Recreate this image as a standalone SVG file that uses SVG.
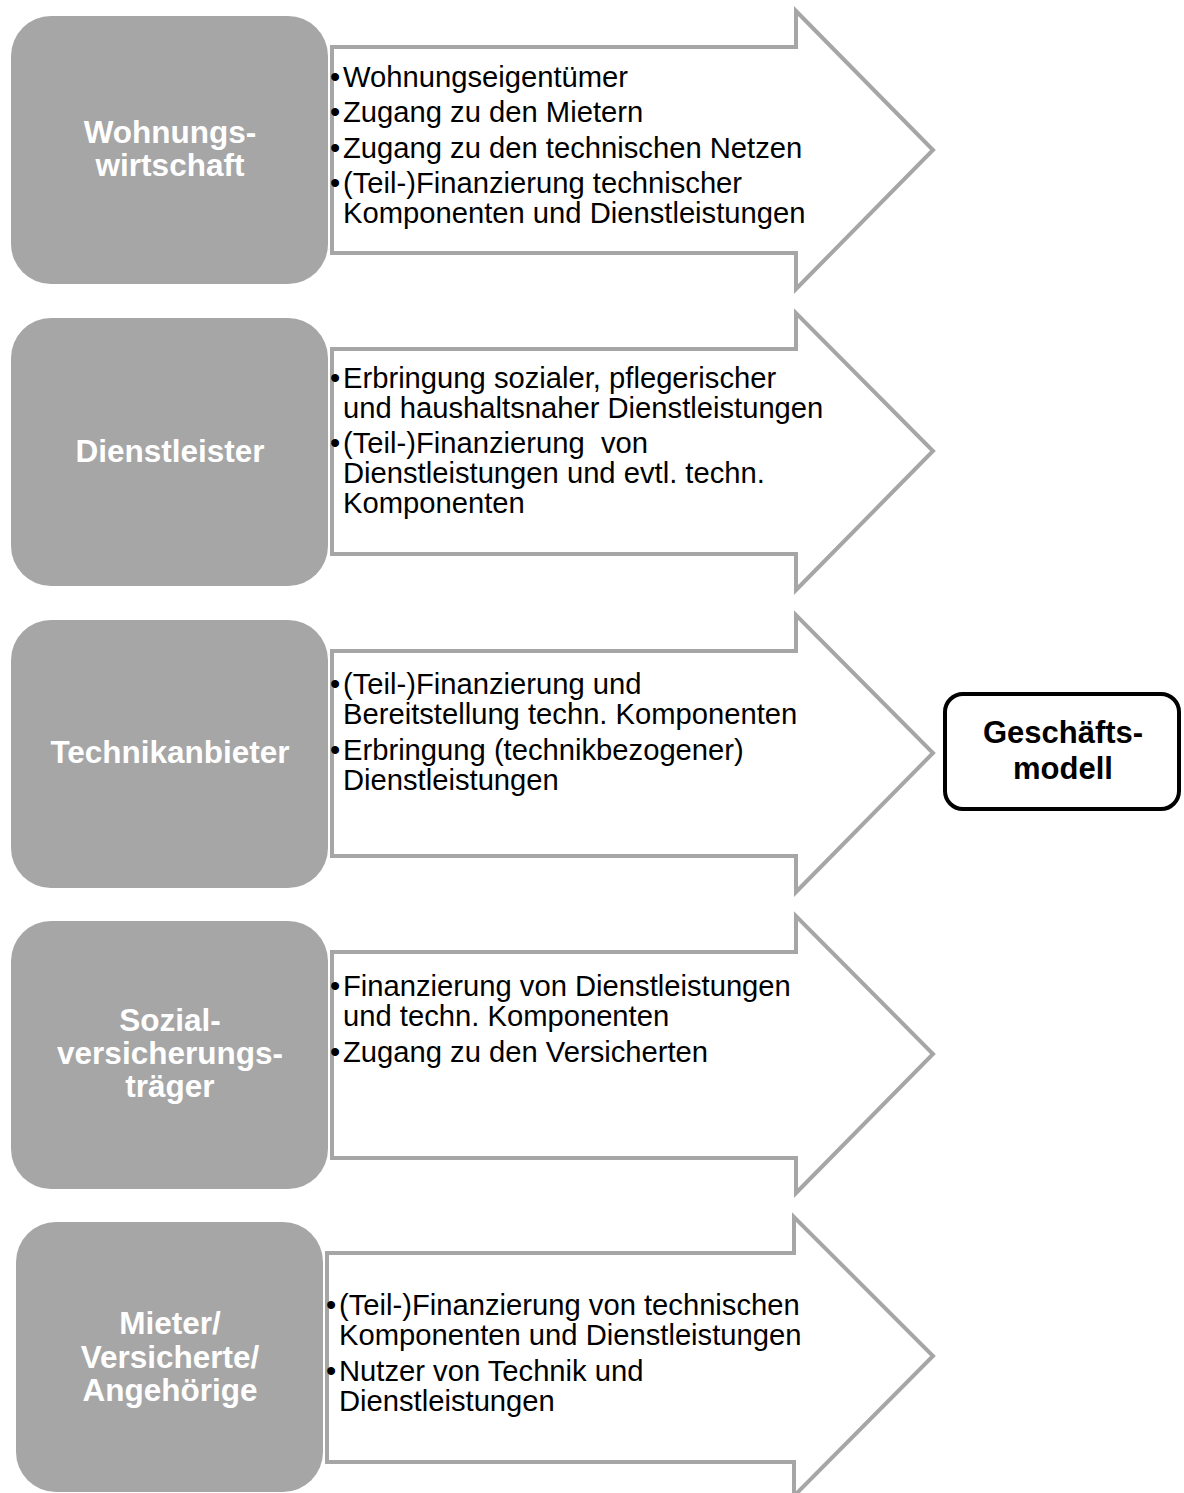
<svg xmlns="http://www.w3.org/2000/svg" width="1184" height="1493" viewBox="0 0 1184 1493">
<style>
.arrow{fill:#ffffff;stroke:#a6a6a6;stroke-width:4;stroke-linejoin:miter}
.box{fill:#a6a6a6}
.lbl{font-family:"Liberation Sans",Arial,sans-serif;font-weight:bold;font-size:31.5px;fill:#ffffff;text-anchor:middle}
.txt{font-family:"Liberation Sans",Arial,sans-serif;font-size:29.2px;fill:#000000;white-space:pre}
.goal{fill:#ffffff;stroke:#000000;stroke-width:4}
.glbl{font-family:"Liberation Sans",Arial,sans-serif;font-weight:bold;font-size:31px;fill:#000000;text-anchor:middle}
</style>
<rect width="1184" height="1493" fill="#ffffff"/>
<g id="connectors">
<polygon class="arrow" points="332,47 796,47 796,11 933,150 796,289 796,253 332,253"/>
<polygon class="arrow" points="332,349 796,349 796,313 933,451 796,590 796,554 332,554"/>
<polygon class="arrow" points="332,651 796,651 796,615 933,753 796,892 796,856 332,856"/>
<polygon class="arrow" points="332,952 796,952 796,916 933,1054 796,1193 796,1158 332,1158"/>
<polygon class="arrow" points="327,1253 794,1253 794,1217 933,1356 794,1496 794,1462 327,1462"/>
</g>
<g id="arrow1-text">
<text class="txt" x="330" y="87">•</text><text class="txt" x="343" y="87">Wohnungseigentümer</text>
<text class="txt" x="330" y="122">•</text><text class="txt" x="343" y="122">Zugang zu den Mietern</text>
<text class="txt" x="330" y="158">•</text><text class="txt" x="343" y="158">Zugang zu den technischen Netzen</text>
<text class="txt" x="330" y="193">•</text><text class="txt" x="343" y="193">(Teil-)Finanzierung technischer</text>
<text class="txt" x="343" y="223">Komponenten und Dienstleistungen</text>
</g>
<g id="arrow2-text">
<text class="txt" x="330" y="388">•</text><text class="txt" x="343" y="388">Erbringung sozialer, pflegerischer</text>
<text class="txt" x="343" y="418">und haushaltsnaher Dienstleistungen</text>
<text class="txt" x="330" y="453">•</text><text class="txt" x="343" y="453">(Teil-)Finanzierung  von</text>
<text class="txt" x="343" y="483">Dienstleistungen und evtl. techn.</text>
<text class="txt" x="343" y="513">Komponenten</text>
</g>
<g id="arrow3-text">
<text class="txt" x="330" y="694">•</text><text class="txt" x="343" y="694">(Teil-)Finanzierung und</text>
<text class="txt" x="343" y="724">Bereitstellung techn. Komponenten</text>
<text class="txt" x="330" y="760">•</text><text class="txt" x="343" y="760">Erbringung (technikbezogener)</text>
<text class="txt" x="343" y="790">Dienstleistungen</text>
</g>
<g id="arrow4-text">
<text class="txt" x="330" y="996">•</text><text class="txt" x="343" y="996">Finanzierung von Dienstleistungen</text>
<text class="txt" x="343" y="1026">und techn. Komponenten</text>
<text class="txt" x="330" y="1062">•</text><text class="txt" x="343" y="1062">Zugang zu den Versicherten</text>
</g>
<g id="arrow5-text">
<text class="txt" x="326" y="1315">•</text><text class="txt" x="339" y="1315">(Teil-)Finanzierung von technischen</text>
<text class="txt" x="339" y="1345">Komponenten und Dienstleistungen</text>
<text class="txt" x="326" y="1381">•</text><text class="txt" x="339" y="1381">Nutzer von Technik und</text>
<text class="txt" x="339" y="1411">Dienstleistungen</text>
</g>
<g id="node-wohnungswirtschaft">
<rect class="box" x="11" y="16" width="317" height="268" rx="40"/>
<text class="lbl" x="170" y="143">Wohnungs-</text>
<text class="lbl" x="170" y="176">wirtschaft</text>
</g>
<g id="node-dienstleister">
<rect class="box" x="11" y="318" width="317" height="268" rx="40"/>
<text class="lbl" x="170" y="462">Dienstleister</text>
</g>
<g id="node-technikanbieter">
<rect class="box" x="11" y="620" width="317" height="268" rx="40"/>
<text class="lbl" x="170" y="763">Technikanbieter</text>
</g>
<g id="node-sozialversicherungstraeger">
<rect class="box" x="11" y="921" width="317" height="268" rx="40"/>
<text class="lbl" x="170" y="1031">Sozial-</text>
<text class="lbl" x="170" y="1064">versicherungs-</text>
<text class="lbl" x="170" y="1097">träger</text>
</g>
<g id="node-mieter">
<rect class="box" x="16" y="1222" width="307" height="270" rx="40"/>
<text class="lbl" x="170" y="1334">Mieter/</text>
<text class="lbl" x="170" y="1368">Versicherte/</text>
<text class="lbl" x="170" y="1401">Angehörige</text>
</g>
<g id="node-geschaeftsmodell">
<rect class="goal" x="945" y="694" width="234" height="115" rx="18"/>
<text class="glbl" x="1063" y="743">Geschäfts-</text>
<text class="glbl" x="1063" y="779">modell</text>
</g>
</svg>
